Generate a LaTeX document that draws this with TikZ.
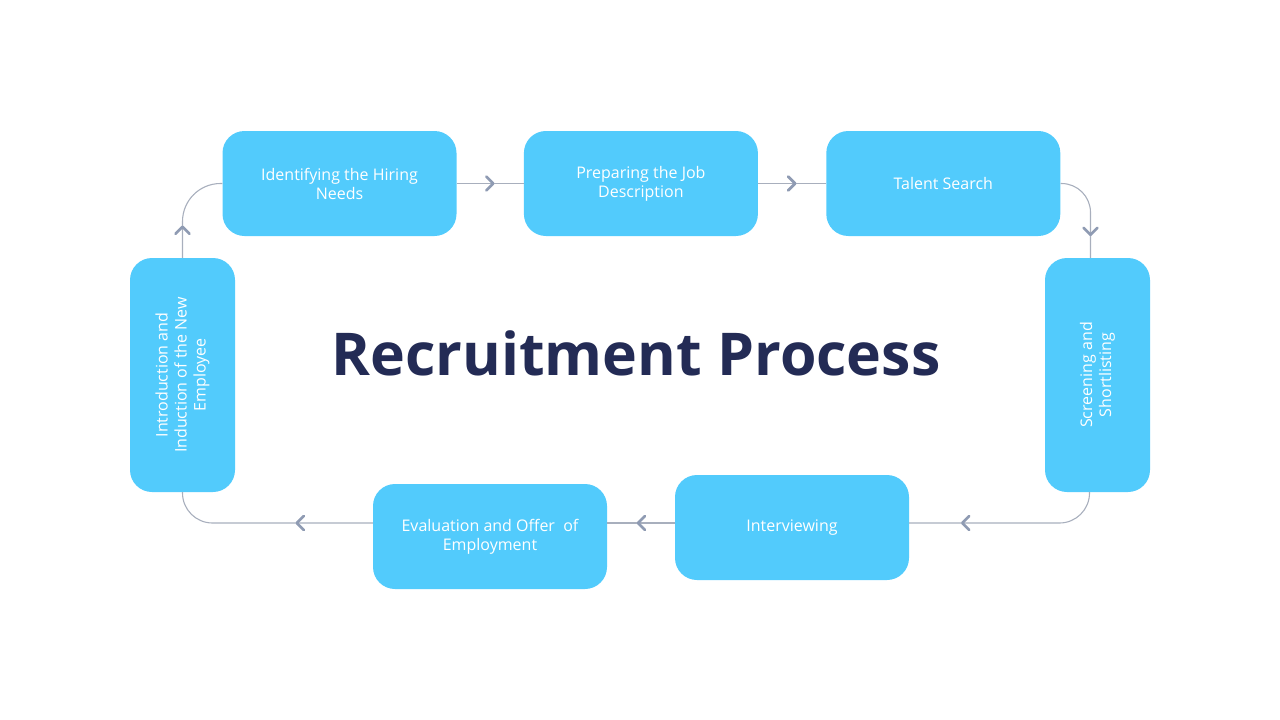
\documentclass[tikz,border=0pt]{standalone}
\usepackage{fontspec}
\setmainfont{Open Sans}
\usetikzlibrary{positioning,calc}

\definecolor{boxblue}{HTML}{52CBFC}
\definecolor{navy}{HTML}{232B55}
\definecolor{linegray}{HTML}{A8AFBD}
\definecolor{chevgray}{HTML}{8F9BB3}

\tikzset{
  stage/.style = {fill = boxblue, rounded corners = 22pt, minimum width = 234pt,
                  minimum height = 105pt, inner sep = 0pt, align = center,
                  text = white, font = \fontsize{16}{19}\selectfont},
  link/.style = {draw = linegray, line width = 1.1pt},
  chev/.pic = {\draw [chevgray, line width = 2.7pt, line cap = round, line join = round]
                 (-4,-7) -- (3,0) -- (-4,7);}
}

\begin{document}
\begin{tikzpicture}[x = 1pt, y = -1pt]
    \useasboundingbox (0,0) rectangle (1280,720);

    \node [stage] (hire) at (339.5,183.5) {Identifying the Hiring\\Needs};
    \node [stage] (jobdesc) [right = 67pt of hire] {Preparing the Job\\Description};
    \node [stage] (search) [right = 68pt of jobdesc] {Talent Search};
    % vertical boxes: east is the top, west the bottom
    \node [stage, rotate = 90] (screen) at (1097.5,375) {Screening and\\Shortlisting};
    \node [stage] (interview) at (792,527.5) {Interviewing};
    \node [stage] (offer) at (490,536.5) {Evaluation and Offer~ of\\Employment};
    \node [stage, rotate = 90] (induct) at (182.5,375) {Introduction and\\Induction of the New\\Employee};

    \node [font = \fontsize{59}{64}\selectfont\bfseries, text = navy] (title) at (636,353) {Recruitment Process};

    \coordinate (track) at (0,523);

    \draw [link] (hire) -- coordinate (a1) (jobdesc);
    \draw [link] (jobdesc) -- coordinate (a2) (search);
    \draw [link, rounded corners = 29pt] (search.east) -| ([xshift = -7pt]screen.east);
    \draw [link, rounded corners = 30pt] ([xshift = -8pt]screen.west) |- (interview.east |- track);
    \draw [link] (interview.west |- track) -- coordinate (a5) (offer.east |- track);
    \draw [link, rounded corners = 30pt] (offer.west |- track) -| (induct.west);
    \draw [link, rounded corners = 38pt] (induct.east) |- (hire.west);

    \pic at (a1) {chev};
    \pic at (a2) {chev};
    \pic [rotate = -90] at ([xshift = -7pt, yshift = 26pt]screen.east) {chev};
    \pic [rotate = 180] at ($(interview.east |- track) + (56,0)$) {chev};
    \pic [rotate = 180] at (a5) {chev};
    \pic [rotate = 180] at ($(offer.west |- track) + (-73,0)$) {chev};
    \pic [rotate = 90] at ([yshift = 28pt]induct.east) {chev};
\end{tikzpicture}
\end{document}
